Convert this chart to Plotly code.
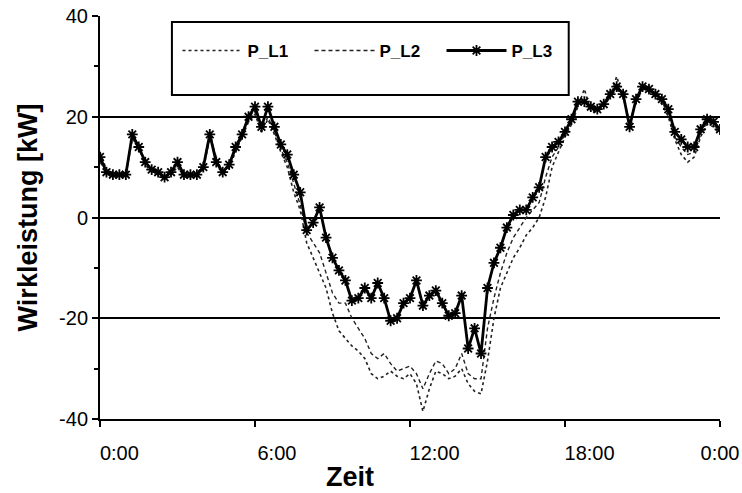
import plotly.graph_objects as go

# time grid in hours (15-minute steps, 0:00 .. 24:00)
hours = [i * 0.25 for i in range(97)]

p_l1 = [13, 9.5, 8.5, 8, 8.5, 15.5, 14.5, 10.5, 9, 8.5, 7.5, 8.5, 10, 8, 8, 8.5,
        9.5, 16, 12, 8.5, 10, 13, 16, 19, 20.5, 17, 19.5, 16.5, 13, 10, 5, 1.5,
        -5, -8, -11, -14, -19, -22.5, -24, -25.5, -26.5, -28, -31, -32, -31.5, -30.5, -31.5, -32,
        -31, -33, -38.5, -34, -30.5, -31, -32, -31.5, -30, -33, -34.5, -35, -28.5, -20, -14, -11,
        -8, -6, -3.5, -2, 0, 4, 10, 13, 16, 18.5, 22, 25.5, 21, 21, 22, 24,
        28, 24, 18.5, 23, 25.5, 25, 24, 22.5, 20, 15.5, 12.5, 11, 12, 16, 18.5, 18,
        16.5]

p_l2 = [11, 9, 9, 8.5, 9, 16, 13.5, 11, 9.5, 8.5, 8, 9.5, 10.5, 8.5, 8, 9,
        10, 17, 11.5, 9, 10, 13.5, 16, 19.5, 21, 17, 20, 17, 13.5, 11, 6.5, 2.5,
        -3, -5, -7, -11, -15, -17, -17, -20, -22, -24, -27, -28, -27, -29, -30.5, -30,
        -29.5, -31, -34, -31, -28.5, -29, -31, -30, -27, -31, -32, -32, -22, -16, -11, -7,
        -4, -2, 0, 1.5, 3, 8, 12, 14, 16.5, 19, 22.5, 23, 21.5, 21, 22, 24,
        25.5, 24, 19, 23, 25.5, 25, 24, 23, 20.5, 16, 14, 12.5, 13, 16.5, 19, 18.5,
        17]

p_l3 = [12, 9, 8.5, 8.5, 8.5, 16.5, 14, 11, 9.5, 9, 8, 9, 11, 8.5, 8.5, 8.5,
        10, 16.5, 11, 9, 10.5, 14, 16.5, 20, 22, 18, 22, 18, 14.5, 12.5, 8.5, 5,
        -2.5, -1, 2, -4, -8, -10.5, -12.5, -16.5, -16, -14, -16, -13, -16, -20.5, -20, -17,
        -16, -12.5, -17.5, -15.5, -14.5, -17, -19.5, -19, -15.5, -26, -22, -27, -14, -9, -6, -2,
        0.5, 1.5, 1.5, 4, 6, 12, 14, 15, 17, 19.5, 23, 23, 22, 21.5, 22.5, 24.5,
        26, 24.5, 18, 23.5, 26, 25.5, 24.5, 23.5, 21.5, 17, 15.5, 14, 14, 17.5, 19.5, 19,
        17.5]

x_tick_vals = [0, 6, 12, 18, 24]
x_label_pos = [0.75, 6.85, 12.95, 18.95, 24]
x_tick_text = ["0:00", "6:00", "12:00", "18:00", "0:00"]
y_tick_vals = [40, 20, 0, -20, -40]
y_tick_text = ["40", "20", "0", "-20", "-40"]

FONT = "Liberation Sans, Arial, sans-serif"

fig = go.Figure()
fig.add_trace(go.Scatter(x=hours, y=p_l1, name="P_L1", mode="lines",
                         line=dict(color="#222", width=1.6, dash="dot")))
fig.add_trace(go.Scatter(x=hours, y=p_l2, name="P_L2", mode="lines",
                         line=dict(color="#222", width=1.4, dash="4px,3px")))
fig.add_trace(go.Scatter(x=hours, y=p_l3, name="P_L3", mode="lines+markers",
                         line=dict(color="#000", width=2.8),
                         marker=dict(symbol="asterisk-open", size=9, color="#000",
                                     line=dict(color="#000", width=1.8))))
# helper trace so the label axis is drawn
fig.add_trace(go.Scatter(x=[0, 24], y=[None, None], xaxis="x2", showlegend=False,
                         hoverinfo="skip", mode="lines"))

fig.update_layout(
    width=742, height=493,
    margin=dict(l=100, r=22, t=16, b=74, autoexpand=False),
    paper_bgcolor="white", plot_bgcolor="white",
    font=dict(family=FONT, color="black", size=20),
    showlegend=True,
    legend=dict(orientation="h", x=0.125, y=0.958, xanchor="left", yanchor="top",
                bgcolor="rgba(0,0,0,0)", borderwidth=0, itemwidth=60,
                font=dict(family=FONT, size=17, color="black", weight="bold"),
                entrywidth=57, itemclick=False),
    shapes=[dict(type="rect", xref="paper", yref="paper", x0=0.116, x1=0.756,
                 y0=0.804, y1=0.985, line=dict(color="black", width=2),
                 fillcolor="white", layer="above")],
    xaxis=dict(range=[0, 24], tickvals=x_tick_vals, ticktext=["", "", "", "", ""],
               ticks="outside", ticklen=6, tickwidth=2, tickcolor="black",
               showline=True, linecolor="black", linewidth=2, automargin=False,
               showgrid=False, zeroline=False),
    xaxis2=dict(range=[0, 24], overlaying="x", side="bottom", anchor="y",
                tickvals=x_label_pos, ticktext=x_tick_text, automargin=False,
                ticks="outside", ticklen=16, tickcolor="rgba(0,0,0,0)",
                showline=False, showgrid=False, zeroline=False,
                tickfont=dict(family=FONT, size=20, color="black")),
    yaxis=dict(range=[-40, 40], tickvals=y_tick_vals, ticktext=y_tick_text,
               ticks="outside", ticklen=6, tickwidth=2, tickcolor="black",
               showline=True, linecolor="black", linewidth=2, automargin=False,
               showgrid=True, gridcolor="black", gridwidth=2, zeroline=False,
               tickfont=dict(family=FONT, size=20, color="black"),
               minor=dict(dtick=10, tick0=0, ticks="outside", ticklen=4,
                          tickcolor="black", tickwidth=1.5, showgrid=False),
               title=dict(text="Wirkleistung [kW]", standoff=14,
                          font=dict(family=FONT, size=27, color="black", weight="bold"))),
    annotations=[dict(text="Zeit", xref="paper", yref="paper", x=0.403, y=-0.145,
                      xanchor="center", yanchor="middle", showarrow=False,
                      font=dict(family=FONT, size=27, color="black", weight="bold"))],
)

fig.write_html("out.html")
